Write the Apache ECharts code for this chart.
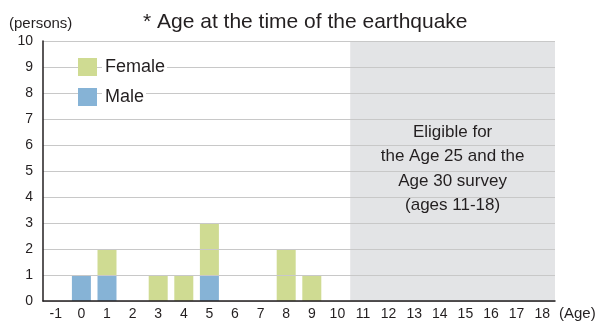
<!DOCTYPE html>
<html>
<head>
<meta charset="utf-8">
<script src="https://cdn.jsdelivr.net/npm/echarts@6/dist/echarts.min.js"></script>
<style>
  html, body { margin: 0; padding: 0; background: #fff; }
  #chart { width: 596px; height: 321px; }
</style>
</head>
<body>
<div id="chart"></div>
<script>
// Age at the time of the earthquake (years), one bar slot per age
const ages = ['-1', '0', '1', '2', '3', '4', '5', '6', '7', '8', '9',
              '10', '11', '12', '13', '14', '15', '16', '17', '18'];
// Number of persons by sex for each age
const male   = [0, 1, 1, 0, 0, 0, 1, 0, 0, 0, 0, 0, 0, 0, 0, 0, 0, 0, 0, 0];
const female = [0, 0, 1, 0, 1, 1, 2, 0, 0, 2, 1, 0, 0, 0, 0, 0, 0, 0, 0, 0];
const yTicks = [0, 10];
// Ages covered by the later surveys (shaded band)
const shadedAges = [11, 18];
const shadedNote = 'Eligible for\nthe Age 25 and the\nAge 30 survey\n(ages 11-18)';

const FONT = '"Liberation Sans", Arial, sans-serif';
const TEXT = '#231f20';

const chart = echarts.init(document.getElementById('chart'));
chart.setOption({
  animation: false,
  backgroundColor: '#fff',
  textStyle: { fontFamily: FONT, color: TEXT },
  title: [
    {
      text: '* Age at the time of the earthquake',
      left: 138, top: 7,
      textStyle: { fontFamily: FONT, fontSize: 21, fontWeight: 'normal', color: TEXT }
    },
    {
      text: '(persons)',
      left: 4, top: 11,
      textStyle: { fontFamily: FONT, fontSize: 15, fontWeight: 'normal', color: TEXT }
    }
  ],
  legend: {
    data: ['Female', 'Male'],
    orient: 'vertical',
    left: 73, top: 52,
    z: 10,
    itemWidth: 19, itemHeight: 18, itemGap: 10,
    formatter: '{t|{name}}',
    textStyle: {
      fontFamily: FONT, fontSize: 18, color: TEXT,
      rich: {
        t: {
          fontFamily: FONT, fontSize: 18, color: TEXT,
          backgroundColor: '#fff', padding: [1, 2, 1, 3]
        }
      }
    },
    icon: 'rect'
  },
  grid: { left: 43, right: 41, top: 41, bottom: 20, containLabel: false, outerBoundsMode: 'none' },
  xAxis: [
    {
      type: 'category',
      data: ages,
      name: '(Age)',
      nameLocation: 'end',
      nameGap: 4,
      nameTextStyle: { fontFamily: FONT, fontSize: 15, color: TEXT, verticalAlign: 'top', padding: [5, 0, 0, 0] },
      axisLine: { lineStyle: { color: '#231f20', width: 1.5 } },
      axisTick: { show: false },
      axisLabel: { fontFamily: FONT, fontSize: 14, color: TEXT, margin: 6, interval: 0 },
      z: 5
    },
    {
      type: 'value',
      min: -1.5, max: 18.5,
      show: false
    }
  ],
  yAxis: {
    type: 'value',
    min: yTicks[0], max: yTicks[1], interval: 1,
    axisLine: { show: true, onZero: false, lineStyle: { color: '#231f20', width: 1.5 } },
    axisTick: { show: false },
    axisLabel: { fontFamily: FONT, fontSize: 14, color: TEXT, margin: 10 },
    splitLine: { lineStyle: { color: '#c8c8c8', width: 1 } },
    z: 5
  },
  series: [
    {
      name: 'Male',
      type: 'bar',
      stack: 'persons',
      data: male,
      barWidth: 19,
      itemStyle: { color: '#86b3d6' }
    },
    {
      name: 'Female',
      type: 'bar',
      stack: 'persons',
      data: female,
      barWidth: 19,
      itemStyle: { color: '#cfdb92' }
    },
    {
      // Shaded band for ages 11–18 with its note
      name: 'band',
      type: 'line',
      xAxisIndex: 1,
      data: [],
      silent: true,
      markArea: {
        silent: true,
        itemStyle: { color: 'rgba(200,202,206,0.5)' },
        label: {
          show: true,
          position: 'inside',
          offset: [0, -2],
          formatter: shadedNote,
          fontFamily: FONT, fontSize: 17, color: TEXT,
          lineHeight: 24.5, align: 'center'
        },
        data: [[
          { xAxis: shadedAges[0] - 0.5, yAxis: yTicks[0] },
          { xAxis: shadedAges[1] + 0.5, yAxis: yTicks[1] }
        ]]
      }
    }
  ]
});
</script>
</body>
</html>
